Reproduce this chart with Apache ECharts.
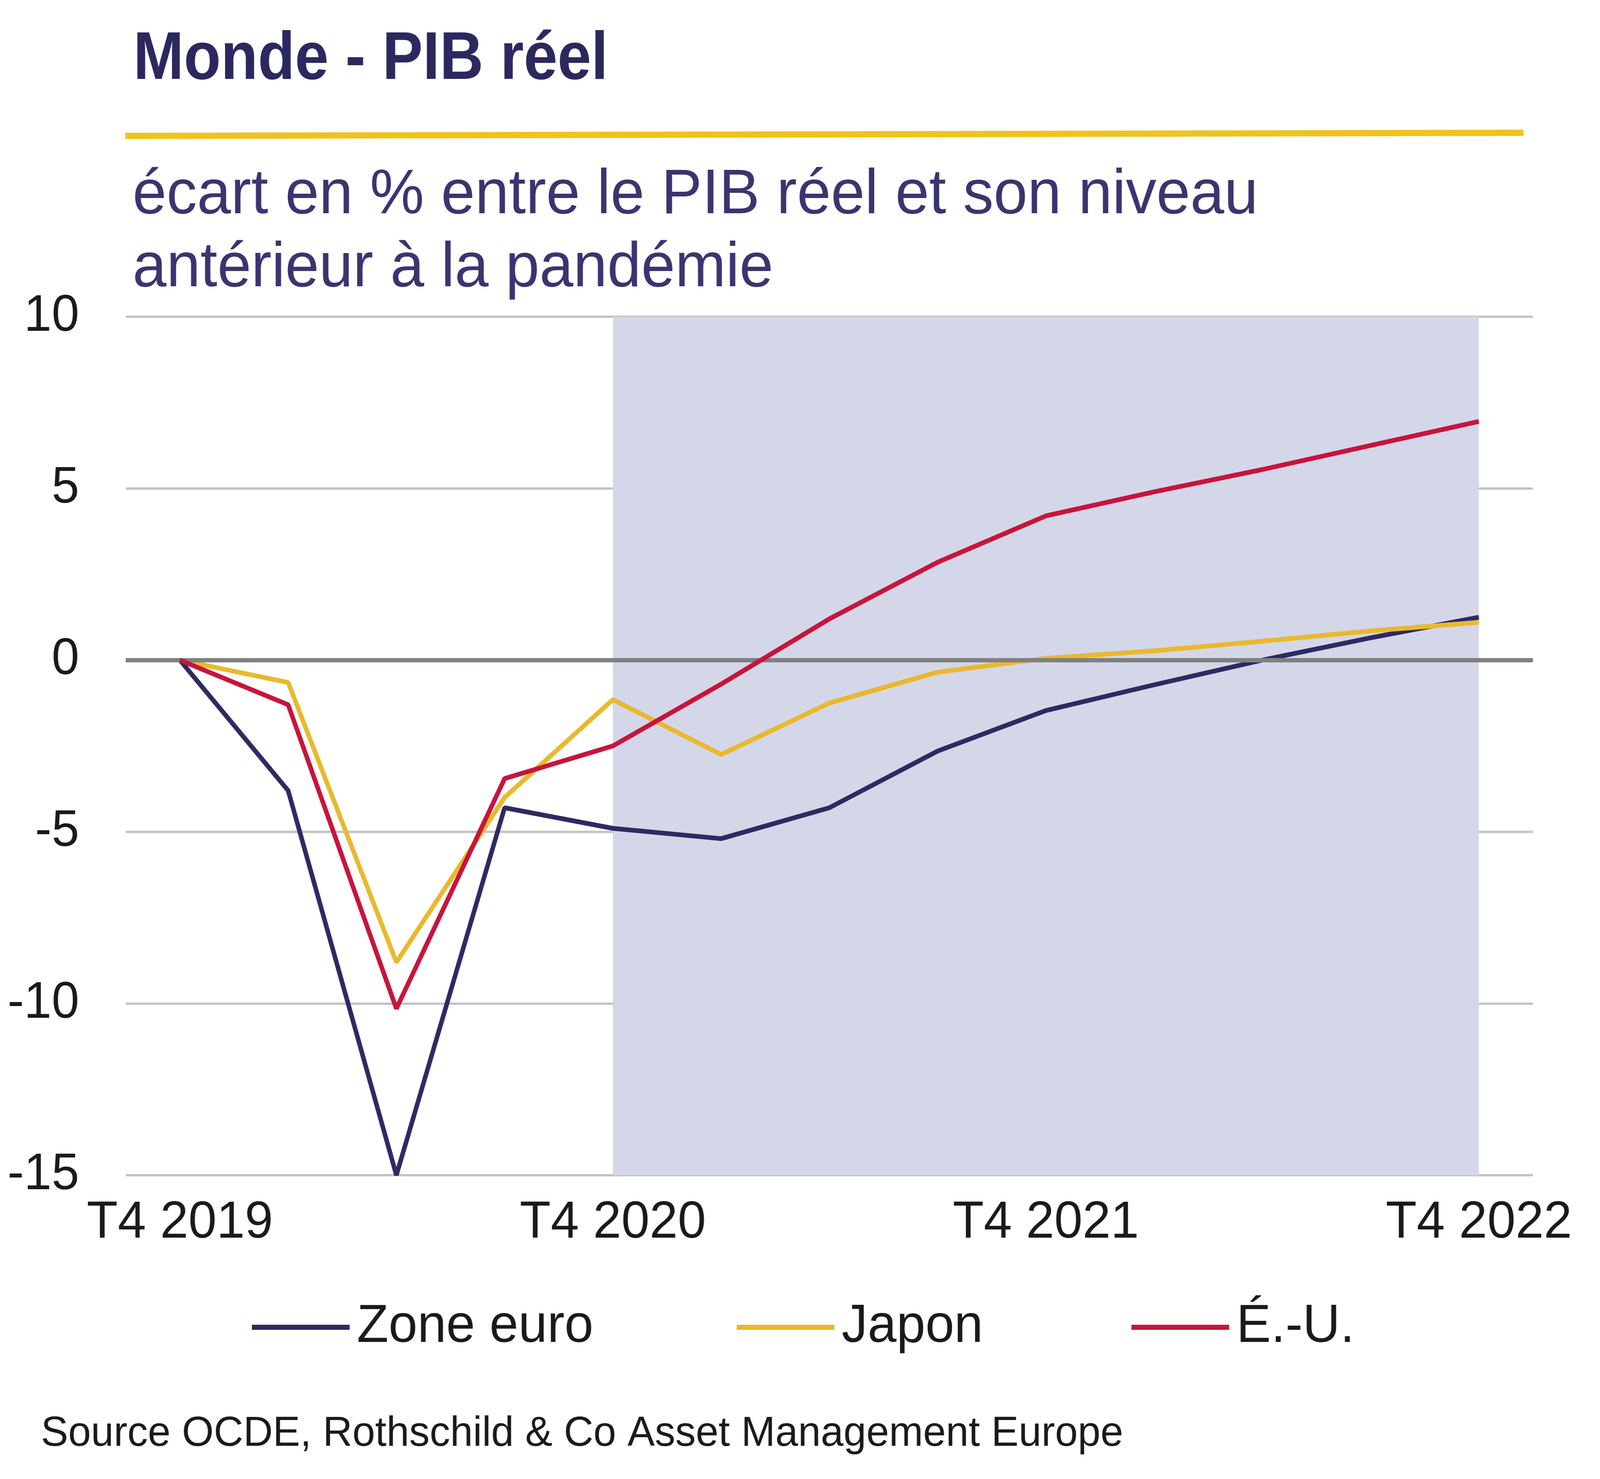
<!DOCTYPE html>
<html>
<head>
<meta charset="utf-8">
<script src="https://cdn.jsdelivr.net/npm/echarts@6/dist/echarts.min.js"></script>
<style>
html,body{margin:0;padding:0;background:#fff;overflow:hidden;}
#chart{width:4224px;height:3787px;transform-origin:0 0;}
</style>
</head>
<body>
<div id="chart"></div>
<script>
const categories = ['T4 2019','T1 2020','T2 2020','T3 2020','T4 2020','T1 2021','T2 2021','T3 2021','T4 2021','T1 2022','T2 2022','T3 2022','T4 2022'];
const zoneEuro = [0, -3.8, -15.0, -4.3, -4.9, -5.2, -4.3, -2.65, -1.47, -0.72, 0.0, 0.65, 1.25];
const japon    = [0, -0.65, -8.8, -4.0, -1.15, -2.75, -1.25, -0.35, 0.05, 0.27, 0.55, 0.85, 1.1];
const eu       = [0, -1.3, -10.15, -3.45, -2.5, -0.7, 1.2, 2.85, 4.2, 4.9, 5.55, 6.25, 6.95];
const yTicks = {min: -15, max: 10, interval: 5};
const seriesNames = ['Zone euro', 'Japon', 'É.-U.'];
const colors = ['#2e2a62', '#e9b92e', '#c8143c'];

// fit the 4224x3787 design into the actual viewport
const el = document.getElementById('chart');
const sx = (window.innerWidth || 4224) / 4224, sy = (window.innerHeight || 3787) / 3787;
el.style.transform = 'scale(' + sx + ',' + sy + ')';

const FONT = '"Liberation Sans", Arial, sans-serif';
const chart = echarts.init(el);

function legendAt(name, left) {
  return {
    data: [name], left: left, top: 3325, orient: 'horizontal',
    icon: 'rect', itemWidth: 258, itemHeight: 13,
    textStyle: {fontFamily: FONT, fontSize: 137, color: '#1a1a1a', padding: [0,0,0,14]},
    selectedMode: false
  };
}

chart.setOption({
  backgroundColor: '#ffffff',
  animation: false,
  grid: {left: 332, right: 177, top: 811, bottom: 778, containLabel: false},
  graphic: [
    {type: 'text', x: 352, y: 155, scaleX: 0.93, style: {text: 'Monde - PIB réel', fontFamily: FONT, fontWeight: 'bold', fontSize: 172, fill: '#2b2860', verticalAlign: 'middle', align: 'left'}},
    {type: 'line', shape: {x1: 331, y1: 348, x2: 4022, y2: 340}, style: {stroke: '#f0c31c', lineWidth: 16}},
    {type: 'text', x: 350, y: 502, style: {text: 'écart en % entre le PIB réel et son niveau', fontFamily: FONT, fontSize: 161, fill: '#3a3470', verticalAlign: 'middle', align: 'left'}},
    {type: 'text', x: 350, y: 689, style: {text: 'antérieur à la pandémie', fontFamily: FONT, fontSize: 161, fill: '#3a3470', verticalAlign: 'middle', align: 'left'}},
    {type: 'text', x: 108, y: 3672, style: {text: 'Source OCDE, Rothschild & Co Asset Management Europe', fontFamily: FONT, fontSize: 108, fill: '#1a1a1a', verticalAlign: 'middle', align: 'left'}}
  ],
  legend: [legendAt(seriesNames[0], 660), legendAt(seriesNames[1], 1940), legendAt(seriesNames[2], 2982)],
  xAxis: {
    type: 'category', data: categories, boundaryGap: true,
    axisLine: {show: false}, axisTick: {show: false}, splitLine: {show: false},
    axisLabel: {interval: 3, fontFamily: FONT, fontSize: 134, color: '#1a1a1a', margin: 56, showMaxLabel: true}
  },
  yAxis: {
    type: 'value', min: yTicks.min, max: yTicks.max, interval: yTicks.interval,
    axisLine: {show: false}, axisTick: {show: false},
    axisLabel: {fontFamily: FONT, fontSize: 131, color: '#1a1a1a', margin: 123},
    splitLine: {show: true, lineStyle: {color: '#c4c4c4', width: 6}}
  },
  series: [
    {
      name: seriesNames[0], type: 'line', data: zoneEuro, symbol: 'none', z: 3,
      lineStyle: {color: colors[0], width: 12}, itemStyle: {color: colors[0]},
      markArea: {silent: true, itemStyle: {color: '#d4d7e8'}, data: [[{xAxis: 'T4 2020'}, {xAxis: 'T4 2022'}]]},
      markLine: {silent: true, symbol: 'none', label: {show: false}, lineStyle: {color: '#808080', width: 11, type: 'solid'}, data: [{yAxis: 0}]}
    },
    {name: seriesNames[1], type: 'line', data: japon, symbol: 'none', z: 4, lineStyle: {color: colors[1], width: 12}, itemStyle: {color: colors[1]}},
    {name: seriesNames[2], type: 'line', data: eu, symbol: 'none', z: 5, lineStyle: {color: colors[2], width: 12}, itemStyle: {color: colors[2]}}
  ]
});
</script>
</body>
</html>
